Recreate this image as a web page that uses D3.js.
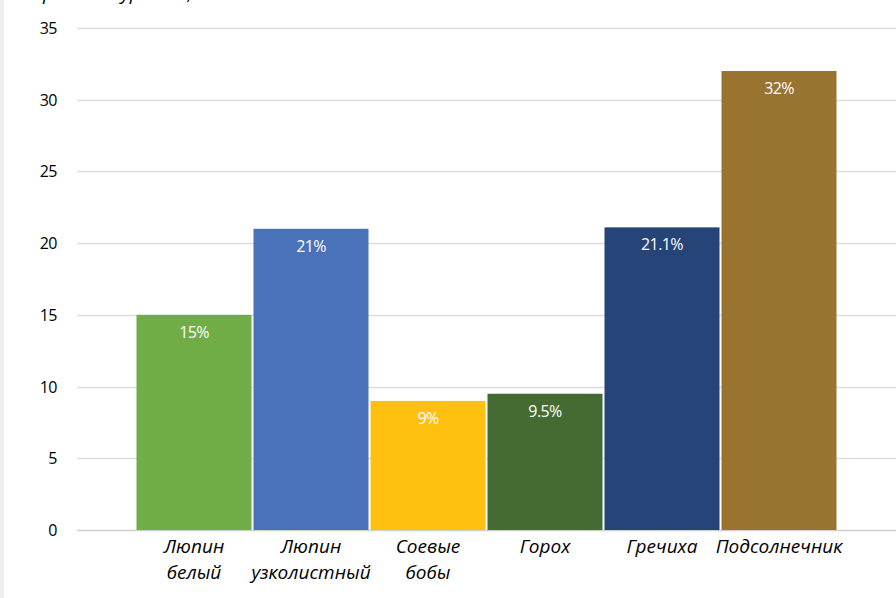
<!DOCTYPE html>
<html><head><meta charset="utf-8">
<script src="https://cdn.jsdelivr.net/npm/d3@7"></script>
<style>html,body{margin:0;padding:0;background:#fff;overflow:hidden}</style>
</head><body>
<script>
const categories = [["Люпин","белый"],["Люпин","узколистный"],["Соевые","бобы"],["Горох"],["Гречиха"],["Подсолнечник"]];
const values = [15, 21, 9, 9.5, 21.1, 32];
const valueLabels = ["15%","21%","9%","9.5%","21.1%","32%"];
const colors = ["#70AD47","#4A72B8","#FFC010","#466B32","#264478","#997430"];
const yTicks = [0,5,10,15,20,25,30,35];
const title = "Прибавка урожая, %";

const W = 896, H = 598;
const svg = d3.select("body").append("svg").attr("width", W).attr("height", H);
svg.append("rect").attr("x",0).attr("y",0).attr("width",4).attr("height",H).attr("fill","#efefef");

const x0 = 77, x1 = 896, yTop = 28, yBot = 530;
const ids = categories.map((c,i)=>i);
const x = d3.scaleBand().domain(ids).range([x0, x1]).paddingInner(0).paddingOuter(0.5);
const y = d3.scaleLinear().domain([0,35]).range([yBot, yTop]);

const font = "'Open Sans', 'Noto Sans', sans-serif";

// gridlines
svg.append("g").selectAll("line").data(yTicks).join("line")
  .attr("x1", x0).attr("x2", x1)
  .attr("y1", d=>Math.round(y(d))+0.5).attr("y2", d=>Math.round(y(d))+0.5)
  .attr("stroke", d=> d===0 ? "#d0d0d0" : "#dedede").attr("stroke-width",1.3);

// y tick labels
svg.append("g").selectAll("text").data(yTicks).join("text")
  .attr("x", 57).attr("y", d=>y(d)+6)
  .attr("text-anchor","end").attr("font-family",font).attr("font-size",16).attr("fill","#000")
  .attr("letter-spacing","-0.5")
  .text(d=>d);

// bars
svg.append("g").selectAll("rect").data(values).join("rect")
  .attr("x",(d,i)=>x(i)+1).attr("width", x.bandwidth()-2)
  .attr("y", d=>y(d)).attr("height", d=>y(0)-y(d))
  .attr("fill",(d,i)=>colors[i]);

// value labels
svg.append("g").selectAll("text").data(values).join("text")
  .attr("x",(d,i)=>x(i)+x.bandwidth()/2).attr("y", d=>y(d)+23)
  .attr("text-anchor","middle").attr("font-family",font).attr("font-size",16).attr("fill","#fff")
  .attr("letter-spacing","-0.6")
  .text((d,i)=>valueLabels[i]);

// category labels
const cg = svg.append("g").selectAll("text").data(categories).join("text")
  .attr("x",(d,i)=>x(i)+x.bandwidth()/2).attr("y", 553)
  .attr("text-anchor","middle").attr("font-family",font).attr("font-size",19)
  .attr("font-style","italic").attr("fill","#000");
cg.each(function(d,i){
  const t = d3.select(this);
  d.forEach((line,j)=>{
    t.append("tspan").attr("x", x(i)+x.bandwidth()/2).attr("dy", j===0?0:26).text(line);
  });
});

// cut-off title (only its lower part shows, as in the reference)
svg.append("text").attr("x", 30).attr("y", 0).attr("font-family",font).attr("font-size",19)
  .attr("font-style","italic").attr("fill","#000").text(title);
</script>
</body></html>
